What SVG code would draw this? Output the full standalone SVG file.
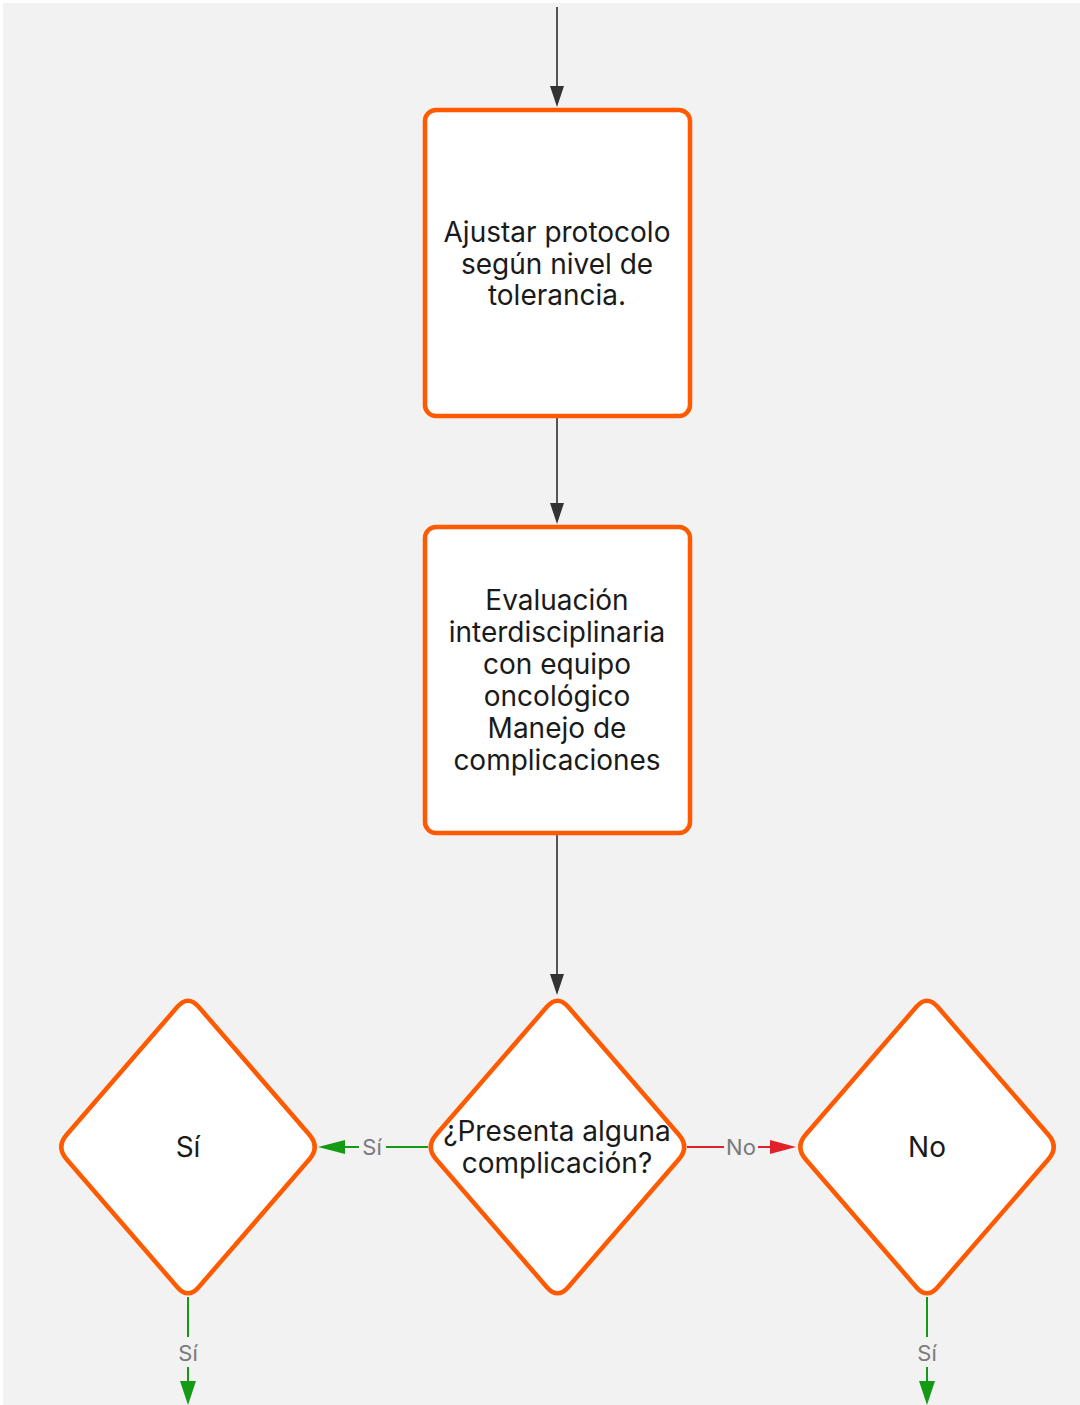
<svg xmlns="http://www.w3.org/2000/svg" width="1080" height="1405" viewBox="0 0 1080 1405">
  <defs>
    <style>
      .node { fill: #ffffff; stroke: #ff5a00; stroke-width: 4.5; }
      .label { font-family: Inter, "Noto Sans", "Liberation Sans", sans-serif; font-size: 28px; fill: #1a1a1a; text-anchor: middle; }
      .edge-label { font-family: Inter, "Noto Sans", "Liberation Sans", sans-serif; font-size: 22px; fill: #7a7a7a; text-anchor: middle; }
      .flow { stroke: #555555; stroke-width: 2; fill: none; }
      .yes { stroke: #159a15; stroke-width: 2; fill: none; }
      .no { stroke: #e0202a; stroke-width: 2; fill: none; }
      .head-dark { fill: #333333; }
      .head-green { fill: #159a15; }
      .head-red { fill: #e0202a; }
    </style>
    <!-- rounded diamond, centred on the origin -->
    <path id="diamond" d="M-10.6,-140.2 Q0,-152.5 10.6,-140.2 L121.4,-12.3 Q132,0 121.4,12.3 L10.6,140.2 Q0,152.5 -10.6,140.2 L-121.4,12.3 Q-132,0 -121.4,-12.3 Z"/>
  </defs>

  <rect x="0" y="0" width="1080" height="1405" fill="#ffffff"/>
  <rect x="3" y="3" width="1077" height="1402" fill="#f2f2f2"/>

  <g id="connectors">
    <line class="flow" x1="557" y1="7" x2="557" y2="90"/>
    <path class="head-dark" d="M550,86 L564,86 L557,107 Z"/>
    <line class="flow" x1="557" y1="418" x2="557" y2="506"/>
    <path class="head-dark" d="M550,503 L564,503 L557,524 Z"/>
    <line class="flow" x1="557" y1="835" x2="557" y2="977"/>
    <path class="head-dark" d="M550,974 L564,974 L557,995 Z"/>

    <line class="yes" x1="428" y1="1147" x2="386" y2="1147"/>
    <line class="yes" x1="359" y1="1147" x2="340" y2="1147"/>
    <path class="head-green" d="M345,1140 L345,1154 L318,1147 Z"/>
    <text class="edge-label" x="372" y="1155">Sí</text>

    <line class="no" x1="687" y1="1147" x2="724" y2="1147"/>
    <line class="no" x1="758" y1="1147" x2="775" y2="1147"/>
    <path class="head-red" d="M770,1140 L770,1154 L796,1147 Z"/>
    <text class="edge-label" x="741" y="1155">No</text>

    <line class="yes" x1="188" y1="1297" x2="188" y2="1337"/>
    <line class="yes" x1="188" y1="1367" x2="188" y2="1385"/>
    <path class="head-green" d="M180,1381 L196,1381 L188,1405 Z"/>
    <text class="edge-label" x="188" y="1361">Sí</text>

    <line class="yes" x1="927" y1="1297" x2="927" y2="1337"/>
    <line class="yes" x1="927" y1="1367" x2="927" y2="1385"/>
    <path class="head-green" d="M919,1381 L935,1381 L927,1405 Z"/>
    <text class="edge-label" x="927" y="1361">Sí</text>
  </g>

  <g id="ajustar-protocolo">
    <rect class="node" x="425" y="110" width="265" height="306" rx="11"/>
    <text class="label" x="557" y="242">Ajustar protocolo</text>
    <text class="label" x="557" y="274">según nivel de</text>
    <text class="label" x="557" y="305">tolerancia.</text>
  </g>

  <g id="evaluacion">
    <rect class="node" x="425" y="527" width="265" height="306" rx="11"/>
    <text class="label" x="557" y="610">Evaluación</text>
    <text class="label" x="557" y="642">interdisciplinaria</text>
    <text class="label" x="557" y="674">con equipo</text>
    <text class="label" x="557" y="706">oncológico</text>
    <text class="label" x="557" y="738">Manejo de</text>
    <text class="label" x="557" y="770">complicaciones</text>
  </g>

  <g id="complicacion">
    <use href="#diamond" class="node" transform="translate(557.5,1147)"/>
    <text class="label" x="557" y="1141">¿Presenta alguna</text>
    <text class="label" x="557" y="1173">complicación?</text>
  </g>

  <g id="si">
    <use href="#diamond" class="node" transform="translate(188,1147)"/>
    <text class="label" x="188" y="1157">Sí</text>
  </g>

  <g id="no">
    <use href="#diamond" class="node" transform="translate(927,1147)"/>
    <text class="label" x="927" y="1157">No</text>
  </g>
</svg>
